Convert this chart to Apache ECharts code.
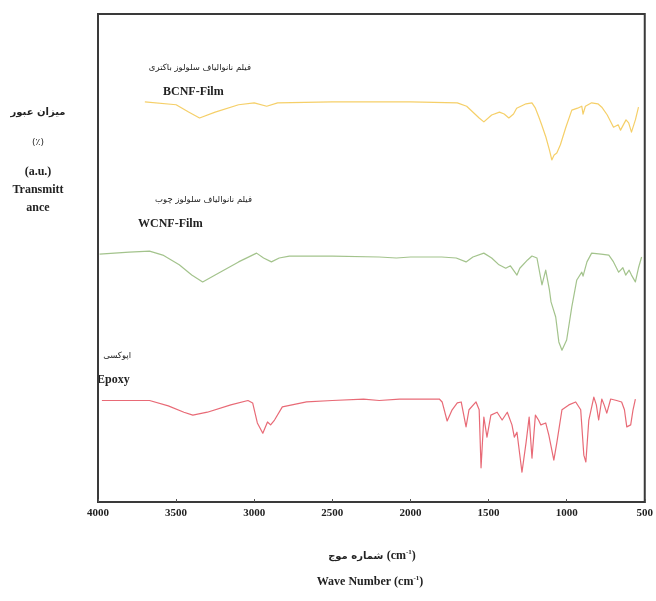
<!DOCTYPE html>
<html>
<head>
<meta charset="utf-8">
<script src="https://cdn.jsdelivr.net/npm/echarts@6/dist/echarts.min.js"></script>
<style>
  html, body { margin: 0; padding: 0; background: #fff; }
  #chart { width: 656px; height: 601px; }
</style>
</head>
<body>
<div id="chart"></div>
<script>
// FTIR spectra, transmittance (a.u., curves stacked) vs. wave number (cm^-1)
const xTicks = [4000, 3500, 3000, 2500, 2000, 1500, 1000, 500];

const bcnfWave = [3700, 3500, 3420, 3350, 3250, 3100, 3000, 2920, 2850, 2500, 2000, 1700, 1640, 1560, 1530, 1480, 1430, 1400, 1370, 1340, 1320, 1260, 1222, 1200, 1178, 1160, 1133, 1110, 1095, 1080, 1063, 1040, 1005, 967, 930, 903, 895, 880, 840, 800, 775, 740, 700, 670, 655, 620, 603, 585, 560, 540];
const bcnfT = [82.0, 81.4, 79.9, 78.7, 79.9, 81.4, 81.8, 81.1, 81.8, 82.0, 82.0, 81.8, 81.1, 78.7, 77.9, 79.3, 79.9, 79.5, 78.7, 79.5, 80.7, 81.6, 81.8, 80.7, 78.9, 77.3, 74.8, 72.1, 70.1, 71.1, 71.5, 73.2, 76.8, 80.3, 80.7, 81.1, 79.5, 81.1, 81.8, 81.6, 80.9, 79.3, 76.8, 77.3, 76.2, 78.3, 77.7, 75.8, 78.3, 80.9];

const wcnfWave = [3990, 3800, 3670, 3585, 3480, 3400, 3330, 3250, 3100, 2985, 2940, 2890, 2840, 2775, 2500, 2200, 2090, 2000, 1800, 1707, 1644, 1600, 1530, 1480, 1433, 1390, 1360, 1318, 1300, 1250, 1222, 1190, 1158, 1134, 1110, 1100, 1070, 1050, 1030, 1000, 967, 935, 903, 895, 870, 840, 780, 730, 700, 667, 640, 622, 600, 585, 560, 540, 520];
const wcnfT = [50.8, 51.2, 51.4, 50.6, 48.6, 46.5, 45.1, 46.5, 49.2, 51.0, 50.0, 49.2, 50.0, 50.4, 50.4, 50.2, 50.0, 50.2, 50.2, 50.0, 49.2, 50.2, 51.0, 50.0, 48.6, 47.9, 48.4, 46.5, 47.9, 49.6, 50.4, 50.0, 44.5, 47.5, 43.4, 41.0, 37.9, 32.8, 31.1, 33.2, 40.0, 45.5, 47.1, 46.3, 49.2, 51.0, 50.8, 50.6, 49.2, 47.1, 48.0, 46.5, 47.5, 46.5, 45.1, 48.0, 50.2];

const epoxyWave = [3975, 3800, 3670, 3550, 3450, 3393, 3300, 3150, 3040, 3010, 2980, 2945, 2915, 2895, 2870, 2820, 2665, 2500, 2300, 2200, 2070, 1900, 1815, 1797, 1765, 1733, 1700, 1675, 1644, 1625, 1580, 1560, 1548, 1530, 1510, 1485, 1445, 1413, 1380, 1350, 1335, 1318, 1286, 1260, 1240, 1222, 1200, 1180, 1165, 1134, 1114, 1082, 1063, 1030, 986, 942, 910, 890, 877, 858, 826, 810, 795, 775, 760, 743, 718, 680, 648, 630, 615, 590, 575, 560];
const epoxyT = [20.8, 20.8, 20.8, 19.7, 18.4, 17.8, 18.4, 19.9, 20.8, 20.3, 16.2, 14.1, 16.4, 15.8, 16.8, 19.5, 20.5, 20.8, 21.1, 20.8, 21.1, 21.1, 21.1, 20.5, 16.6, 18.9, 20.3, 20.5, 15.4, 18.9, 20.5, 18.9, 7.0, 17.4, 13.3, 17.8, 18.4, 16.8, 18.4, 15.8, 13.3, 14.3, 6.1, 12.1, 17.4, 9.0, 17.8, 16.8, 15.8, 16.2, 13.7, 8.6, 12.1, 18.9, 19.9, 20.5, 18.9, 9.6, 8.2, 16.8, 21.5, 19.9, 16.8, 21.1, 19.9, 18.2, 21.1, 20.8, 20.5, 18.9, 15.4, 15.8, 18.9, 21.1];

const pair = (xs, ys) => xs.map((x, i) => [x, ys[i]]);

const serif = '"Liberation Serif", "Times New Roman", serif';
const arabic = '"DejaVu Sans", "Noto Sans", sans-serif';

function lineSeries(name, xs, ys, color) {
  return {
    name: name,
    type: 'line',
    data: pair(xs, ys),
    showSymbol: false,
    smooth: false,
    lineStyle: { color: color, width: 1.2, opacity: 0.85, join: 'round' },
    silent: true,
    z: 3
  };
}

const chart = echarts.init(document.getElementById('chart'), null, { renderer: 'canvas' });

function txt(x, y, text, font, size, weight, align) {
  return {
    type: 'text',
    x: x, y: y,
    style: {
      text: text,
      font: (weight || 'normal') + ' ' + size + 'px ' + font,
      fill: '#222',
      align: align || 'left',
      verticalAlign: 'middle'
    }
  };
}

chart.setOption({
  animation: false,
  backgroundColor: '#ffffff',
  grid: {
    left: 98, right: 11, top: 14, bottom: 99,
    show: true, borderColor: '#3a3a3a', borderWidth: 2
  },
  xAxis: {
    type: 'value',
    inverse: true,
    min: 500, max: 4000, interval: 500,
    axisLine: { show: true, lineStyle: { color: '#3a3a3a', width: 2 } },
    axisTick: { show: true, inside: true, length: 3, lineStyle: { color: '#555' } },
    splitLine: { show: false },
    axisLabel: {
      color: '#222', fontFamily: serif, fontWeight: 'bold', fontSize: 11, margin: 6,
      formatter: v => xTicks.includes(v) ? String(v) : ''
    }
  },
  yAxis: {
    type: 'value',
    min: 0, max: 100,
    axisLine: { show: true, lineStyle: { color: '#3a3a3a', width: 2 } },
    axisTick: { show: false },
    axisLabel: { show: false },
    splitLine: { show: false }
  },
  series: [
    lineSeries('BCNF-Film', bcnfWave, bcnfT, '#f3c74e'),
    lineSeries('WCNF-Film', wcnfWave, wcnfT, '#93b978'),
    lineSeries('Epoxy', epoxyWave, epoxyT, '#e4505e')
  ],
  graphic: [
    // y-axis title
    txt(38, 112, 'میزان عبور', arabic, 10, 'bold', 'center'),
    txt(38, 143, '(٪)', arabic, 9, 'normal', 'center'),
    txt(38, 172, '(a.u.)', serif, 12, 'bold', 'center'),
    txt(38, 190, 'Transmitt', serif, 12, 'bold', 'center'),
    txt(38, 208, 'ance', serif, 12, 'bold', 'center'),
    // curve captions
    txt(251, 68, 'فیلم نانوالیاف سلولوز باکتری', arabic, 8.5, 'normal', 'right'),
    txt(163, 92, 'BCNF-Film', serif, 12, 'bold', 'left'),
    txt(252, 200, 'فیلم نانوالیاف سلولوز چوب', arabic, 8.5, 'normal', 'right'),
    txt(138, 224, 'WCNF-Film', serif, 12, 'bold', 'left'),
    txt(131, 356, 'اپوکسی', arabic, 8.5, 'normal', 'right'),
    txt(97, 380, 'Epoxy', serif, 12, 'bold', 'left'),
    // x-axis title
    {
      type: 'text', x: 372, y: 556,
      style: {
        text: '{ar|شماره موج }{t|(cm}{s|-1}{t|)}',
        rich: {
          ar: { font: 'bold 10px ' + arabic, fill: '#222' },
          t: { font: 'bold 12px ' + serif, fill: '#222' },
          s: { font: 'bold 7px ' + serif, fill: '#222', verticalAlign: 'top', padding: [0, 0, 8, 0] }
        },
        align: 'center', verticalAlign: 'middle'
      }
    },
    {
      type: 'text', x: 370, y: 582,
      style: {
        text: '{t|Wave Number (cm}{s|-1}{t|)}',
        rich: {
          t: { font: 'bold 12px ' + serif, fill: '#222' },
          s: { font: 'bold 7px ' + serif, fill: '#222', verticalAlign: 'top', padding: [0, 0, 8, 0] }
        },
        align: 'center', verticalAlign: 'middle'
      }
    }
  ]
});
</script>
</body>
</html>
